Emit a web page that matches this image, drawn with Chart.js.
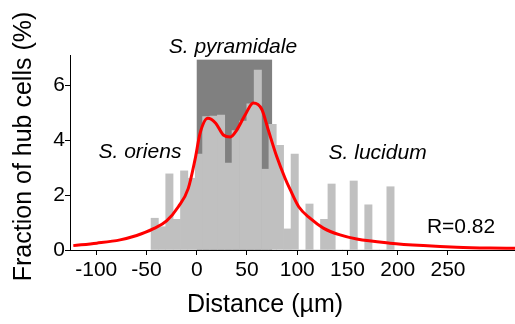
<!DOCTYPE html>
<html>
<head>
<meta charset="utf-8">
<script src="https://cdn.jsdelivr.net/npm/chart.js@4"></script>
<style>
  body { margin: 0; background: #fff; }
  #wrap { width: 515px; height: 324px; }
</style>
</head>
<body>
<div id="wrap"><canvas id="hub-chart"></canvas></div>
<script>
// histogram bins (centres, µm) and fraction of hub cells (%)
const binCenters = [-41.8, -34.5, -27.2, -19.8, -12.5, -5.2, 2.2, 9.5, 16.8, 24.2,
  31.5, 38.8, 46.2, 53.5, 60.8, 68.2, 75.5, 82.8, 90.2, 97.5,
  104.8, 112.2, 119.5, 126.8, 134.2, 141.5, 148.8, 156.2, 163.5, 170.8,
  178.2, 185.5, 192.8];
const hubFraction = [1.16, 0.85, 2.78, 1.12, 2.89, 2.62, 3.5, 4.87, 4.89, 4.93,
  3.17, 4.36, 4.71, 5.34, 6.57, 2.95, 4.59, 3.82, 0.77, 3.5,
  0, 1.68, 0, 1.12, 2.41, 0, 0, 2.52, 0, 1.65,
  0, 0, 2.31];

// fitted curve
const fitX = [-122.8, -99.5, -76.3, -59.7, -51.4, -43, -30, -18.3, -8.4, -1.7,
  3.3, 11, 18.9, 26.5, 33.5, 39.8, 48.1, 56.3, 64.7, 71.2,
  79.6, 87.9, 92.8, 101.5, 112.7, 126, 142.6, 159.2, 192.3, 225.5,
  258.7, 291.8, 316.7];
const fitY = [0.16, 0.25, 0.37, 0.53, 0.64, 0.78, 1.06, 1.58, 2.25, 3.3,
  4.26, 4.81, 4.63, 4.2, 4.13, 4.38, 4.93, 5.37, 5.14, 4.38,
  3.41, 2.62, 2.22, 1.58, 1.16, 0.8, 0.55, 0.4, 0.25, 0.16,
  0.1, 0.07, 0.06];

const xTicks = [-100, -50, 0, 50, 100, 150, 200, 250];
const yTicks = [0, 1, 2, 3, 4, 5, 6, 7];

// stratum pyramidale band and layer labels
const pyrBand = [0, 75];
const pyrTop = 6.95;
const layerNames = ["S. oriens", "S. pyramidale", "S. lucidum"];
const layerX = [-56.5, 36, 180];
const layerY = [3.56, 7.41, 3.54];
const fitLabel = "R=0.82";
const fitLabelPos = [263, 0.84];
const xTitle = "Distance (µm)";
const yTitle = "Fraction of hub cells (%)";

const FONT = "'Liberation Sans', Arial, sans-serif";

const layersPlugin = {
  id: "layers",
  beforeDatasetsDraw(chart) {
    const { ctx, scales: { x, y } } = chart;
    const l = x.getPixelForValue(pyrBand[0]);
    const r = x.getPixelForValue(pyrBand[1]);
    const t = y.getPixelForValue(pyrTop);
    const b = y.getPixelForValue(0);
    ctx.save();
    ctx.fillStyle = "#808080";
    ctx.fillRect(l, t, r - l, b - t);
    ctx.restore();
  },
  afterDraw(chart) {
    const { ctx, scales: { x, y } } = chart;
    ctx.save();
    ctx.fillStyle = "#000";
    ctx.textAlign = "center";
    ctx.textBaseline = "middle";
    ctx.font = "italic 21px " + FONT;
    layerNames.forEach((name, i) => {
      ctx.fillText(name, x.getPixelForValue(layerX[i]), y.getPixelForValue(layerY[i]));
    });
    ctx.font = "21px " + FONT;
    ctx.fillText(fitLabel, x.getPixelForValue(fitLabelPos[0]), y.getPixelForValue(fitLabelPos[1]));

    // axis titles
    ctx.font = "25px " + FONT;
    ctx.textBaseline = "alphabetic";
    ctx.fillText(xTitle, (x.left + x.getPixelForValue(250)) / 2 + 6, 312);
    ctx.translate(31, (y.top + y.bottom) / 2 - 6);
    ctx.rotate(-Math.PI / 2);
    ctx.fillText(yTitle, 0, 0);
    ctx.restore();
  },
};

const config = {
  data: {
    datasets: [
      {
        type: "line",
        data: fitX.map((v, i) => ({ x: v, y: fitY[i] })),
        borderColor: "rgb(255, 0, 0)",
        borderWidth: 3,
        pointRadius: 0,
        cubicInterpolationMode: "monotone",
        order: 0,
      },
      {
        type: "bar",
        data: binCenters.map((v, i) => ({ x: v, y: hubFraction[i] })),
        backgroundColor: "rgb(192, 192, 192)",
        barPercentage: 1,
        categoryPercentage: 1,
        order: 1,
      },
    ],
  },
  options: {
    responsive: true,
    maintainAspectRatio: false,
    animation: false,
    layout: { padding: { top: 55, right: 0, left: 0, bottom: 0 } },
    plugins: { legend: { display: false }, tooltip: { enabled: false } },
    scales: {
      x: {
        type: "linear",
        offset: false,
        min: -126.1,
        max: 316.7,
        afterBuildTicks: (axis) => { axis.ticks = xTicks.map((v) => ({ value: v })); },
        afterFit: (axis) => { axis.height = 74; },
        grid: { offset: false, drawOnChartArea: false, drawTicks: true, tickLength: 5, color: "#000" },
        border: { display: true, color: "#000", width: 1 },
        ticks: { color: "#000", padding: 3, maxRotation: 0, font: { family: FONT, size: 21 } },
      },
      y: {
        type: "linear",
        min: 0,
        max: 7.12,
        afterBuildTicks: (axis) => { axis.ticks = yTicks.map((v) => ({ value: v })); },
        afterFit: (axis) => { axis.width = 70; },
        grid: { drawOnChartArea: false, drawTicks: true, tickLength: 5, color: "#000" },
        border: { display: true, color: "#000", width: 1 },
        ticks: {
          color: "#000",
          padding: 0,
          font: { family: FONT, size: 21 },
          callback: (v) => (v % 2 === 0 ? v : ""),
        },
      },
    },
  },
  plugins: [layersPlugin],
};

var ctx_hub = document.getElementById("hub-chart").getContext("2d");
var hubChart = new Chart(ctx_hub, config);
</script>
</body>
</html>
